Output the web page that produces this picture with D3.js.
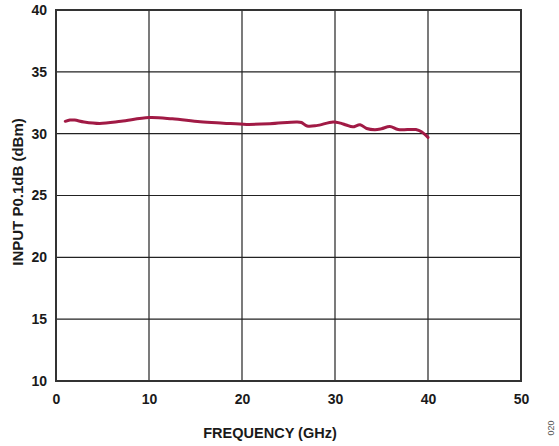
<!DOCTYPE html>
<html><head><meta charset="utf-8">
<script src="https://cdn.jsdelivr.net/npm/d3@7"></script>
<style>body{margin:0;background:#fff}svg{display:block}</style>
</head><body>
<svg id="c" width="559" height="446"></svg>
<script>
const freq = [1, 1.5, 2, 3, 4.7, 7, 10, 12.5, 15.5, 18, 20.5, 23, 25.9, 26.4, 27, 28, 29.8, 30.6, 31.2, 31.9, 32.7, 33.4, 34.3, 35, 35.9, 36.8, 38.7, 39.3, 40];
const p01 = [31.0, 31.1, 31.1, 30.95, 30.83, 31.0, 31.3, 31.2, 30.96, 30.85, 30.75, 30.8, 30.95, 30.9, 30.62, 30.65, 30.95, 30.85, 30.7, 30.55, 30.72, 30.42, 30.32, 30.4, 30.58, 30.33, 30.33, 30.15, 29.7];
const xTicks = [0, 10, 20, 30, 40, 50];
const yTicks = [10, 15, 20, 25, 30, 35, 40];

const svg = d3.select("#c");
const L = 56, R = 521, T = 10, B = 381;
const x = d3.scaleLinear().domain([0, 50]).range([L, R]);
const y = d3.scaleLinear().domain([10, 40]).range([B, T]);
const font = "'Liberation Sans', Arial, sans-serif";

// grid
svg.append("g").selectAll("line").data(xTicks).join("line")
  .attr("x1", d => x(d)).attr("x2", d => x(d)).attr("y1", T).attr("y2", B)
  .attr("stroke", "#222").attr("stroke-width", 1.2);
svg.append("g").selectAll("line").data(yTicks).join("line")
  .attr("y1", d => y(d)).attr("y2", d => y(d)).attr("x1", L).attr("x2", R)
  .attr("stroke", "#222").attr("stroke-width", 1.2);
svg.append("rect").attr("x", L).attr("y", T).attr("width", R - L).attr("height", B - T)
  .attr("fill", "none").attr("stroke", "#333").attr("stroke-width", 2);

// axes labels via d3 axes
const xa = svg.append("g").attr("transform", `translate(0,${B})`)
  .call(d3.axisBottom(x).tickValues(xTicks).tickSize(0).tickPadding(13));
const ya = svg.append("g").attr("transform", `translate(${L},0)`)
  .call(d3.axisLeft(y).tickValues(yTicks).tickSize(0).tickPadding(9));
[xa, ya].forEach(g => {
  g.select(".domain").remove();
  g.selectAll("text").attr("font-family", font).attr("font-size", 14)
    .attr("font-weight", "bold").attr("fill", "#1a1a1a");
});

// line
const line = d3.line().x((d, i) => x(freq[i])).y(d => y(d)).curve(d3.curveCatmullRom.alpha(0.5));
svg.append("path").datum(p01).attr("d", line).attr("fill", "none")
  .attr("stroke", "#a11a45").attr("stroke-width", 3).attr("stroke-linejoin", "round").attr("stroke-linecap", "round");

// titles
svg.append("text").attr("x", 270).attr("y", 438).attr("text-anchor", "middle")
  .attr("font-family", font).attr("font-size", 14.5).attr("font-weight", "bold").attr("fill", "#1a1a1a")
  .text("FREQUENCY (GHz)");
svg.append("text").attr("transform", `translate(23,192) rotate(-90)`).attr("text-anchor", "middle")
  .attr("font-family", font).attr("font-size", 15).attr("font-weight", "bold").attr("fill", "#1a1a1a")
  .text("INPUT P0.1dB (dBm)");
svg.append("text").attr("transform", "translate(554,428) rotate(-90)").attr("text-anchor", "middle")
  .attr("font-family", font).attr("font-size", 9).attr("fill", "#555").text("020");
</script>
</body></html>
